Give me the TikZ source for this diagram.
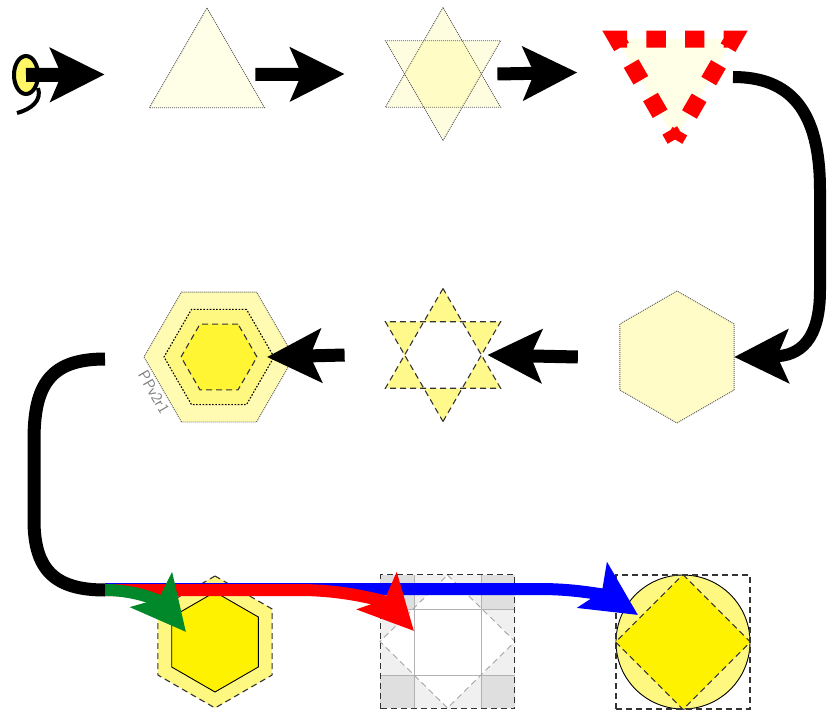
\documentclass[tikz,border=0pt]{standalone}
\usetikzlibrary{arrows.meta,shapes.geometric}
\definecolor{leafgreen}{RGB}{0,136,42}
\begin{document}
\begin{tikzpicture}
        [x=1pt,y=-1pt,
        polybox/.style={regular polygon,inner sep=0pt,outer sep=0pt},
        dots/.style={draw=gray!70!black,line width=0.9pt,dash pattern=on 1pt off 1pt},
        dashline/.style={draw=black!80,line width=1.1pt,dash pattern=on 6pt off 4pt},
        arr/.style={-{Stealth[length=54pt,width=53pt,inset=11pt]},line width=13pt}]
        \useasboundingbox (0,0) rectangle (828,712);
        % top row
        \node (tri) at (207,74.5) [polybox,regular polygon sides=3,minimum size=133pt,dots,fill=yellow!10] {};
        \node (star) at (443,74) [polybox,regular polygon sides=3,minimum size=133pt,dots,fill=yellow,fill opacity=0.12] {};
        \node (starv) at (443,74) [polybox,regular polygon sides=3,shape border rotate=180,minimum size=133pt,dots,fill=yellow,fill opacity=0.12] {};
        \node (redtri) at (675,72.5) [polybox,regular polygon sides=3,shape border rotate=180,minimum size=134pt,fill=yellow!10,draw=red,line width=17pt,dash pattern=on 19.3pt off 19.3pt,dash phase=9.7pt] {};
        \node (src) at (26,75) [ellipse,draw,line width=4pt,fill=yellow!60,minimum width=24pt,minimum height=38pt,inner sep=0pt] {};
        \draw[line width=4pt] (38,88) .. controls (42,100) and (32,109) .. (17,113);
        \draw[arr,line width=14pt] (src.center) -- ([xshift=-64pt]tri.west);
        \draw[arr] ([xshift=10pt]tri.east) -- ([xshift=-60pt]star.west);
        \draw[arr] ([xshift=16pt]star.east) -- ([xshift=-59pt]redtri.west);
        % middle row
        \node (hexa) at (677,357) [polybox,regular polygon sides=6,shape border rotate=30,minimum size=132pt,dots,fill=yellow!22] {};
        \node (starb) at (443,355) [polybox,regular polygon sides=3,minimum size=133pt] {};
        \node (starbv) at (443,355) [polybox,regular polygon sides=3,shape border rotate=180,minimum size=133pt] {};
        \fill[yellow!45,even odd rule] (starb.corner 1) -- (starb.corner 2) -- (starb.corner 3) -- cycle
                (starbv.corner 1) -- (starbv.corner 2) -- (starbv.corner 3) -- cycle;
        \draw[dashline] (starb.corner 1) -- (starb.corner 2) -- (starb.corner 3) -- cycle;
        \draw[dashline] (starbv.corner 1) -- (starbv.corner 2) -- (starbv.corner 3) -- cycle;
        \node (nest) at (219,357) [polybox,regular polygon sides=6,minimum size=150pt,dots,fill=yellow!30] {};
        \node (nestmid) at (219,357) [polybox,regular polygon sides=6,minimum size=110pt,draw=black,line width=1.1pt,dash pattern=on 1.6pt off 1.6pt,fill=yellow!50] {};
        \node (nestcore) at (219,357) [polybox,regular polygon sides=6,minimum size=76pt,dashline,fill=yellow!80] {};
        \node (tag) at (154,392) [rotate=-60,text=gray,font=\sffamily\fontsize{16}{18}\selectfont,inner sep=0pt] {PPv2r1};
        \coordinate (turnA) at (733,77);
        \draw[arr,line width=12pt] (turnA) .. controls (790,77) and (820,110) .. (820,190)
                -- (820,290) .. controls (820,340) and (800,356) .. (hexa.east);
        \draw[arr] ([xshift=-42pt]hexa.west) -- ([xshift=6pt]starb.east);
        \draw[arr] ([xshift=-60pt]starb.west) -- ([xshift=-27pt]nest.east);
        % bottom row
        \node (hexb) at (215,642) [polybox,regular polygon sides=6,shape border rotate=30,minimum size=132pt,dashline,fill=yellow!50] {};
        \node (hexbcore) at (215,642) [polybox,regular polygon sides=6,shape border rotate=30,minimum size=100pt,draw,line width=0.9pt,fill=yellow] {};
        \fill[gray!25] (380,575) rectangle (414,609) (481,575) rectangle (515,609)
                (380,675) rectangle (414,708) (481,675) rectangle (515,708);
        \fill[gray!12] (414,575) rectangle (481,609) (414,675) rectangle (481,708)
                (380,609) rectangle (414,675) (481,609) rectangle (515,675);
        \fill[white] (447.5,575) -- (515,641.5) -- (447.5,708) -- (380,641.5) -- cycle;
        \draw[gray!60,line width=1pt] (414,575) -- (414,708) (481,575) -- (481,708)
                (380,609) -- (515,609) (380,675) -- (515,675);
        \draw[dashline,draw=gray!70,line width=0.9pt] (447.5,575) -- (515,641.5) -- (447.5,708) -- (380,641.5) -- cycle;
        \node (grid) at (447.5,641.5) [rectangle,minimum size=134pt,inner sep=0pt,dashline] {};
        \node (circ) at (683,642) [circle,minimum size=134pt,inner sep=0pt,draw,line width=0.9pt,fill=yellow!50] {};
        \fill[yellow] (circ.north) -- (circ.east) -- (circ.south) -- (circ.west) -- cycle;
        \draw[dashline] (circ.north) -- (circ.east) -- (circ.south) -- (circ.west) -- cycle;
        \node (frame) at (683,642) [rectangle,minimum size=134pt,inner sep=0pt,dashline] {};
        \coordinate (turnB) at (105,359);
        \coordinate (fork) at (105,590);
        \coordinate (tipG) at (186,632);
        \coordinate (tipR) at (414,631);
        \coordinate (tipB) at (638,615);
        \draw[arr,line width=12pt,blue] ([yshift=1pt]fork) -- (540,589) .. controls (585,589) and (612,598) .. (tipB);
        \draw[arr,line width=12pt,red] (fork) -- (300,590) .. controls (350,590) and (388,603) .. (tipR);
        \draw[arr,line width=12pt,leafgreen] (fork) .. controls (140,590) and (162,603) .. (tipG);
        \draw[line width=13pt] (turnB) .. controls (50,359) and (34,385) .. (34,440)
                -- (34,520) .. controls (34,570) and (55,590) .. (fork);
     \end{tikzpicture}
\end{document}
